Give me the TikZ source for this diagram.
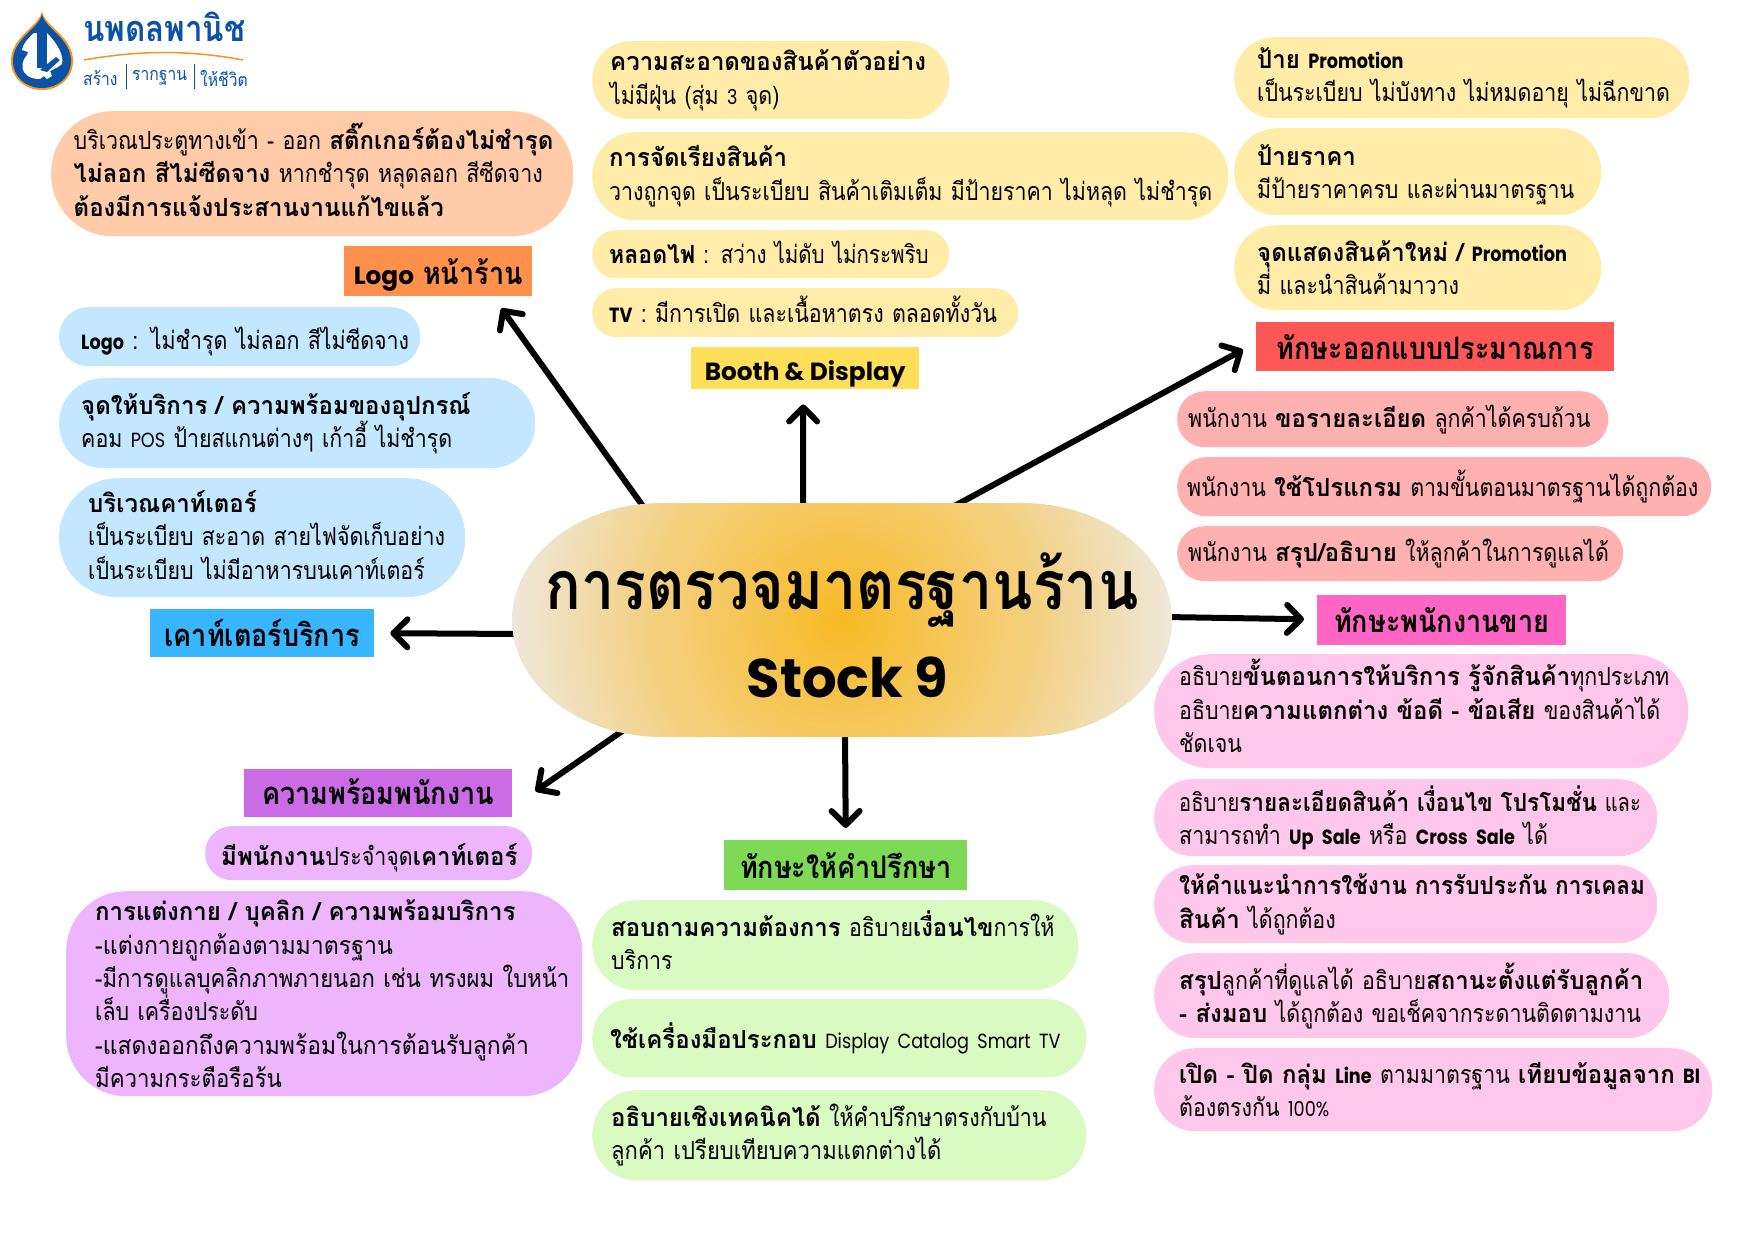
\documentclass[tikz,border=0pt]{standalone}
\usepackage{graphicx}
\usepackage{fontspec}
\setmainfont[Script=Thai,FakeStretch=0.855,BoldFeatures={FakeStretch=0.96}]{Loma}
\newfontfamily\headfont[Script=Thai,FakeStretch=0.87]{Loma}
\newfontfamily\enfont[Scale=0.82,FakeStretch=0.86]{Poppins}
\newfontfamily\enheadfont[Scale=0.8]{Poppins}
\newcommand{\en}[1]{{\enfont #1}}
\newcommand{\enh}[1]{{\enheadfont #1}}
\newcommand{\nudge}[2]{\raisebox{#1}[\height][\depth]{#2}}
\usetikzlibrary{arrows.meta,backgrounds}

\definecolor{peachpill}{HTML}{FFCBA8}
\definecolor{peachhead}{HTML}{FF914D}
\definecolor{bluepill}{HTML}{C2E7FF}
\definecolor{bluehead}{HTML}{38B6FF}
\definecolor{yellowpill}{HTML}{FFECA8}
\definecolor{yellowhead}{HTML}{FFDE59}
\definecolor{redpill}{HTML}{FFB1B1}
\definecolor{redhead}{HTML}{FF5757}
\definecolor{pinkpill}{HTML}{FFC8EA}
\definecolor{pinkhead}{HTML}{FF66C4}
\definecolor{greenpill}{HTML}{D9FBC2}
\definecolor{greenhead}{HTML}{7ED957}
\definecolor{purplepill}{HTML}{EDB6FC}
\definecolor{purplehead}{HTML}{CB6CE6}
\definecolor{logoblue}{HTML}{0B51A6}
\definecolor{logoorange}{HTML}{F7941D}
\definecolor{glowa}{HTML}{F7B924}
\definecolor{glowb}{HTML}{F6C44E}
\definecolor{glowc}{HTML}{F4D080}
\definecolor{glowd}{HTML}{EEEAE4}
\pgfdeclareradialshading{hubglow}{\pgfpoint{0bp}{0bp}}{
  color(0bp)=(glowa);
  color(6bp)=(glowb);
  color(14bp)=(glowc);
  color(25bp)=(glowd);
  color(50bp)=(glowd)}

\begin{document}
\begin{tikzpicture}[x=1pt,y=-1pt,->,>={Straight Barb[length=14pt,width=28pt,round]},
  pill/.style n args={4}{rectangle,anchor=north west,fill=#1,minimum height=#3pt,
    rounded corners={0.49*#3*1pt},inner xsep=#4pt,inner ysep=0pt,
    text width={(#2-2*#4)*1pt},align=left,font=\fontsize{25}{33.4}\selectfont},
  head node/.style={rectangle,anchor=north west,inner sep=0pt,
    font=\fontsize{31}{34}\selectfont\headfont\bfseries}]

  \useasboundingbox (0,0) rectangle (1748,1240);

  \fill[logoorange] (42,11) .. controls (44,26) and (73,36) .. (73,61)
    .. controls (73,78) and (59,90) .. (42,90) .. controls (25,90) and (11,78) .. (11,61)
    .. controls (11,36) and (40,26) .. (42,11) -- cycle;
  \fill[logoblue] (42,14) .. controls (44,28) and (71,38) .. (71,61)
    .. controls (71,77) and (58,88) .. (42,88) .. controls (26,88) and (13,77) .. (13,61)
    .. controls (13,38) and (40,28) .. (42,14) -- cycle;
  \fill[white] (34,33) .. controls (28,38) and (23,44) .. (22,50) -- (28,52) -- (27,55)
    .. controls (22,60) and (21,68) .. (24,72) .. controls (28,78) and (34,79) .. (40,79)
    -- (44,76) -- (47,79) -- (52,76) -- (50,71) -- (58,67) -- (62,64)
    .. controls (64,56) and (58,44) .. (47,33) -- cycle;
  \fill[logoblue] (37,28) rectangle (47,68);
  \fill[logoblue] (40,70) -- (56,57) -- (60,60) -- (47,72) -- cycle;
  \draw[-,logoorange,line width=1.5pt] (84,60) .. controls (140,50) and (190,50) .. (243,60);
  \draw[-,logoblue,line width=1pt] (126,64) -- (126,89);
  \draw[-,logoblue,line width=1pt] (194,64) -- (194,89);
  \node[head node,text=logoblue,font=\fontsize{36}{40}\selectfont\headfont\bfseries] (brand) at (83,12) {นพดลพานิช};
  \node[head node,text=logoblue,font=\fontsize{18}{22}\selectfont\headfont] (brandone) at (83,70) {สร้าง};
  \node[head node,text=logoblue,font=\fontsize{18}{22}\selectfont\headfont] (brandtwo) at (132,70) {รากฐาน};
  \node[head node,text=logoblue,font=\fontsize{18}{22}\selectfont\headfont] (brandthree) at (200,70) {ให้ชีวิต};

  \node[pill={peachpill}{522}{125}{22.5}] (door) at (51,111)
    {\nudge{4pt}{บริเวณประตูทางเข้า - ออก \textbf{สติ๊กเกอร์ต้องไม่ชำรุด}}\\
     \nudge{4pt}{\textbf{ไม่ลอก สีไม่ซีดจาง} หากชำรุด หลุดลอก สีซีดจาง}\\
     \nudge{4pt}{\textbf{ต้องมีการแจ้งประสานงานแก้ไขแล้ว}}};
  \node[head node,fill=peachhead,minimum width=188pt,minimum height=50pt] (hdrlogo) at (344,246) {\nudge{-3.5pt}{\enh{Logo} หน้าร้าน}};

  \node[pill={bluepill}{361}{59}{22}] (logoitem) at (59,307) {\nudge{-4.5pt}{\textbf{\en{Logo}} : ไม่ชำรุด ไม่ลอก สีไม่ซีดจาง}};
  \node[pill={bluepill}{476}{90}{22}] (service) at (59,378)
    {\mbox{\textbf{จุดให้บริการ / ความพร้อมของอุปกรณ์}}\\
     \mbox{คอม \en{POS} ป้ายสแกนต่างๆ เก้าอี้ ไม่ชำรุด}};
  \node[pill={bluepill}{406}{119}{29}] (counter) at (59,478)
    {\nudge{3pt}{\textbf{บริเวณคาท์เตอร์}}\\
     \nudge{3pt}{เป็นระเบียบ สะอาด สายไฟจัดเก็บอย่าง}\\
     \nudge{3pt}{เป็นระเบียบ ไม่มีอาหารบนเคาท์เตอร์}};
  \node[head node,fill=bluehead,minimum width=224pt,minimum height=48pt] (hdrcounter) at (150,609) {เคาท์เตอร์บริการ};

  \node[pill={yellowpill}{357}{78}{18}] (clean) at (592,41)
    {\mbox{\textbf{ความสะอาดของสินค้าตัวอย่าง}}\\
     ไม่มีฝุ่น (สุ่ม \en{3} จุด)};
  \node[pill={yellowpill}{636}{88}{17}] (arrange) at (592,132)
    {\textbf{การจัดเรียงสินค้า}\\
     \mbox{วางถูกจุด เป็นระเบียบ สินค้าเติมเต็ม มีป้ายราคา ไม่หลุด ไม่ชำรุด}};
  \node[pill={yellowpill}{357}{48}{17}] (bulb) at (592,230) {\nudge{2pt}{\scalebox{0.96}[1]{\textbf{หลอดไฟ} : สว่าง ไม่ดับ ไม่กระพริบ}}};
  \node[pill={yellowpill}{426}{49}{17}] (tv) at (592,288) {\nudge{3pt}{\textbf{\en{TV}} : มีการเปิด และเนื้อหาตรง ตลอดทั้งวัน}};
  \node[head node,fill=yellowhead,minimum width=228pt,minimum height=42pt] (hdrbooth) at (691,347) {\nudge{-5.5pt}{\enh{Booth \& Display}}};

  \node[pill={yellowpill}{455}{81}{23}] (promo) at (1234,37)
    {\textbf{ป้าย \en{Promotion}}\\
     \mbox{เป็นระเบียบ ไม่บังทาง ไม่หมดอายุ ไม่ฉีกขาด}};
  \node[pill={yellowpill}{367}{87}{23}] (price) at (1234,128)
    {\nudge{-3pt}{\textbf{ป้ายราคา}}\\
     \nudge{-3pt}{มีป้ายราคาครบ และผ่านมาตรฐาน}};
  \node[pill={yellowpill}{367}{85}{23}] (newitem) at (1234,225)
    {\mbox{\textbf{จุดแสดงสินค้าใหม่ / \en{Promotion}}}\\
     มี่ และนำสินค้ามาวาง};
  \node[head node,fill=redhead,minimum width=358pt,minimum height=49pt] (hdrdesign) at (1256,322) {ทักษะออกแบบประมาณการ};

  \node[pill={redpill}{431}{56}{11}] (detail) at (1177,391) {\mbox{พนักงาน \textbf{ขอรายละเอียด} ลูกค้าได้ครบถ้วน}};
  \node[pill={redpill}{534}{59}{10}] (program) at (1177,457) {\mbox{พนักงาน \textbf{ใช้โปรแกรม} ตามขั้นตอนมาตรฐานได้ถูกต้อง}};
  \node[pill={redpill}{446}{55}{11}] (summary) at (1177,526) {\mbox{พนักงาน \textbf{สรุป/อธิบาย} ให้ลูกค้าในการดูแลได้}};
  \node[head node,fill=pinkhead,minimum width=249pt,minimum height=50pt] (hdrsales) at (1317,595) {ทักษะพนักงานขาย};

  \node[pill={pinkpill}{534}{114}{25}] (steps) at (1154,654)
    {\nudge{5pt}{อธิบาย\textbf{ขั้นตอนการให้บริการ รู้จักสินค้า}ทุกประเภท}\\
     \nudge{5pt}{อธิบาย\textbf{ความแตกต่าง ข้อดี - ข้อเสีย} ของสินค้าได้}\\
     \nudge{5pt}{ชัดเจน}};
  \node[pill={pinkpill}{503}{77}{25}] (upsale) at (1154,779)
    {\scalebox{0.94}[1]{อธิบาย\textbf{รายละเอียดสินค้า เงื่อนไข โปรโมชั่น} และ}\\
     \mbox{สามารถทำ \textbf{\en{Up Sale}} หรือ \textbf{\en{Cross Sale}} ได้}};
  \node[pill={pinkpill}{503}{78}{25}] (usage) at (1154,865)
    {\scalebox{0.94}[1]{\textbf{ให้คำแนะนำการใช้งาน การรับประกัน การเคลม}}\\
     \textbf{สินค้า} ได้ถูกต้อง};
  \node[pill={pinkpill}{515}{85}{25}] (deliver) at (1154,953)
    {\mbox{\textbf{สรุป}ลูกค้าที่ดูแลได้ อธิบาย\textbf{สถานะตั้งแต่รับลูกค้า}}\\
     \mbox{\textbf{- ส่งมอบ} ได้ถูกต้อง ขอเช็คจากระดานติดตามงาน}};
  \node[pill={pinkpill}{558}{83}{25}] (line) at (1154,1048)
    {\mbox{\textbf{เปิด - ปิด กลุ่ม \en{Line}} ตามมาตรฐาน \textbf{เทียบข้อมูลจาก \en{BI}}}\\
     ต้องตรงกัน \en{100\%}};

  \node[head node,fill=greenhead,minimum width=243pt,minimum height=50pt] (hdradvice) at (724,840) {ทักษะให้คำปรึกษา};
  \node[pill={greenpill}{486}{90}{19}] (needs) at (592,900)
    {\nudge{5pt}{\textbf{สอบถามความต้องการ} อธิบาย\textbf{เงื่อนไข}การให้}\\
     \nudge{5pt}{บริการ}};
  \node[pill={greenpill}{494}{78}{18}] (tools) at (592,999) {\mbox{\textbf{ใช้เครื่องมือประกอบ} \en{Display Catalog Smart TV}}};
  \node[pill={greenpill}{494}{90}{19}] (tech) at (592,1090)
    {\mbox{\textbf{อธิบายเชิงเทคนิคได้} ให้คำปรึกษาตรงกับบ้าน}\\
     \scalebox{1.03}[1]{ลูกค้า เปรียบเทียบความแตกต่างได้}};

  \node[head node,fill=purplehead,minimum width=268pt,minimum height=48pt] (hdrstaff) at (244,769) {\nudge{2pt}{ความพร้อมพนักงาน}};
  \node[pill={purplepill}{327}{54}{16}] (onduty) at (205,826) {\nudge{-4.5pt}{\textbf{มีพนักงาน}ประจำจุด\textbf{เคาท์เตอร์}}};
  \node[pill={purplepill}{516}{205}{29},rounded corners=60pt] (dress) at (66,891)
    {\mbox{\textbf{การแต่งกาย / บุคลิก / ความพร้อมบริการ}}\\
     \scalebox{1.08}[1]{-แต่งกายถูกต้องตามมาตรฐาน}\\
     \scalebox{1.03}[1]{-มีการดูแลบุคลิกภาพภายนอก เช่น ทรงผม ใบหน้า}\\
     เล็บ เครื่องประดับ\\
     \scalebox{1.07}[1]{-แสดงออกถึงความพร้อมในการต้อนรับลูกค้า}\\
     \scalebox{1.04}[1]{มีความกระตือรือร้น}};

  \begin{scope}
    \clip (662,503) arc[start angle=90,end angle=270,x radius=150pt,y radius=117pt]
      -- (1022,737) arc[start angle=270,end angle=450,x radius=150pt,y radius=117pt] -- cycle;
    \shade[shading=hubglow] (842,620) circle (345pt);
  \end{scope}
  \node[rectangle,minimum width=660pt,minimum height=234pt,inner sep=0pt,align=center,
    font=\fontsize{68}{88}\selectfont\headfont\bfseries] (hub) at (842,620)
    {\nudge{-5pt}{การตรวจมาตรฐานร้าน}\\ \hspace*{11pt}\nudge{-5pt}{\enh{Stock 9}}};

  \begin{pgfonlayer}{background}
    \path[line width=6pt]
      ([xshift=-190pt,yshift=-16pt]hub.north) edge ([xshift=-31pt,yshift=-12pt]hdrlogo.south east)
      ([xshift=-39pt,yshift=-12pt]hub.north) edge ([xshift=-2pt,yshift=-15pt]hdrbooth.south)
      ([xshift=98pt,yshift=-11pt]hub.north) edge ([xshift=-13pt,yshift=-3pt]hdrdesign.west)
      ([xshift=-7pt,yshift=3pt]hub.east) edge ([xshift=-13pt,yshift=1pt]hdrsales.west)
      ([xshift=3pt,yshift=7pt]hub.south) edge ([yshift=12pt]hdradvice.north)
      ([xshift=-207pt,yshift=15pt]hub.south) edge ([xshift=23pt,yshift=2pt]hdrstaff.east)
      ([xshift=8pt,yshift=-14pt]hub.west) edge ([xshift=16pt]hdrcounter.east);
  \end{pgfonlayer}
\end{tikzpicture}
\end{document}
